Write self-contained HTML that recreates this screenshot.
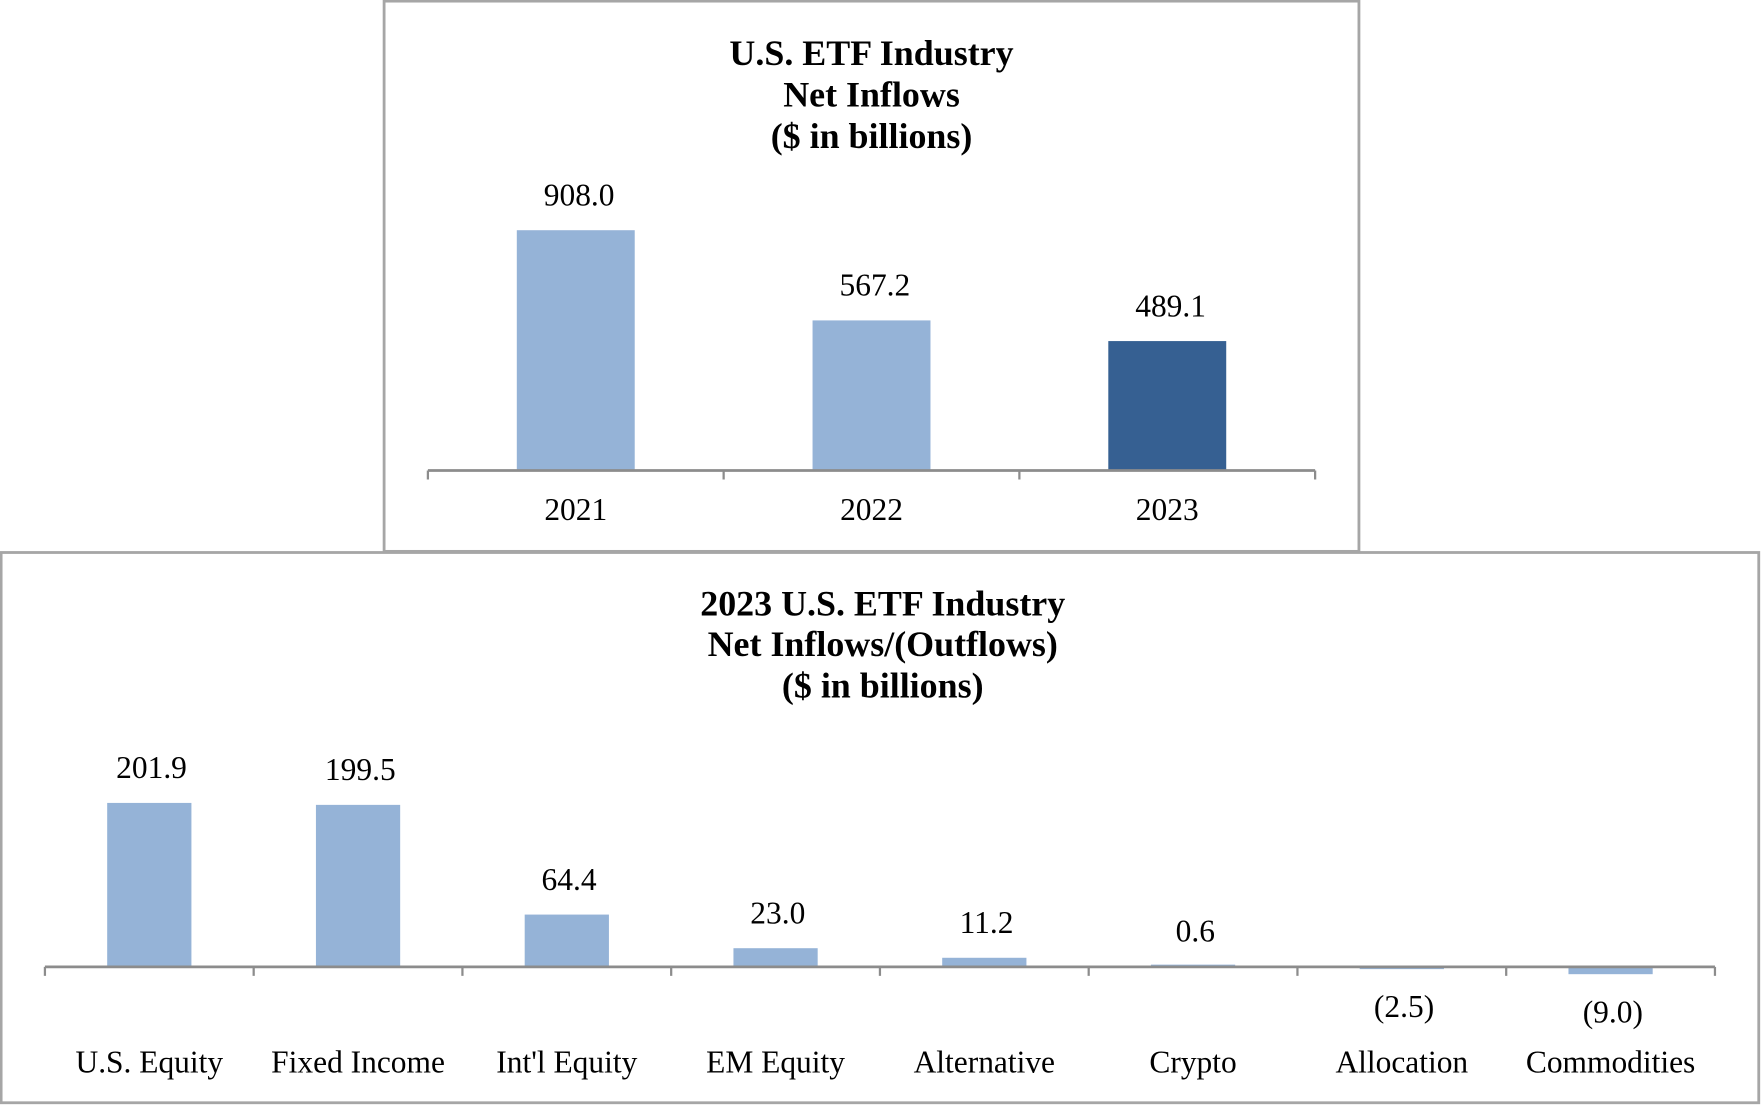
<!DOCTYPE html>
<html><head><meta charset="utf-8"><style>
html,body{margin:0;padding:0;background:#fff;}
svg{display:block;}
text{font-family:"Liberation Serif",serif;fill:#000;}
.t{font-weight:bold;font-size:32px;}
.v{font-size:28px;}
</style></head><body>
<svg id="c" width="1761" height="1105" viewBox="0 0 1568 984" preserveAspectRatio="none" xmlns="http://www.w3.org/2000/svg">
<rect x="342" y="1" width="868" height="490" fill="#fff" stroke="#a6a6a6" stroke-width="2.5"/>
<rect x="1" y="492" width="1565" height="490" fill="#fff" stroke="#a6a6a6" stroke-width="2.5"/>
<g text-anchor="middle">
<text class="t" x="776" y="58">U.S. ETF Industry</text>
<text class="t" x="776" y="95">Net Inflows</text>
<text class="t" x="776" y="132">($ in billions)</text>
</g>
<g text-anchor="middle">
<text class="t" x="786" y="548">2023 U.S. ETF Industry</text>
<text class="t" x="786" y="584">Net Inflows/(Outflows)</text>
<text class="t" x="786" y="621">($ in billions)</text>
</g>
<g id="top"></g>
<g id="bot"></g>
</svg>
<script>
const topCategories = ["2021","2022","2023"];
const topValues = [908.0, 567.2, 489.1];
const topLabels = ["908.0","567.2","489.1"];
const botCategories = ["U.S. Equity","Fixed Income","Int'l Equity","EM Equity","Alternative","Crypto","Allocation","Commodities"];
const botValues = [201.9, 199.5, 64.4, 23.0, 11.2, 0.6, -2.5, -9.0];
const botLabels = ["201.9","199.5","64.4","23.0","11.2","0.6","(2.5)","(9.0)"];

const NS="http://www.w3.org/2000/svg";
function mk(tag, attrs, parent){const e=document.createElementNS(NS,tag);for(const k in attrs)e.setAttribute(k,attrs[k]);parent.appendChild(e);return e;}

function drawChart(g, cats, vals, labels, opt){
  const n=cats.length, step=(opt.x1-opt.x0)/n;
  const xC=i=>opt.x0+step*(i+0.5);
  const yS=v=>opt.base - v*opt.scale;
  vals.forEach((v,i)=>{
    const h=Math.max(Math.abs(yS(v)-opt.base),2);
    const y= v>=0 ? opt.base-h : opt.base;
    const r=mk('rect',{x:xC(i)-opt.bw/2,y:y,width:opt.bw,height:h,fill:opt.colors?opt.colors[i]:'#95b3d7'},g);
    
    
    const ly = v>=0 ? yS(v)-22 : opt.base+opt.negLabelOff+(-v*opt.scale);
    const t=mk('text',{x:xC(i)+(opt.lblDx||0),y:ly,'text-anchor':'middle',class:'v'},g);
    t.textContent=labels[i];
    
    
    const c=mk('text',{x:xC(i),y:opt.catY,'text-anchor':'middle',class:'v'},g);
    c.textContent=cats[i];
    
    
  });
  const ax=mk('line',{x1:opt.x0,x2:opt.x1,y1:opt.base,y2:opt.base,stroke:'#8c8c8c','stroke-width':2.5},g);
  
  
  for(let i=0;i<=n;i++){
    const tk=mk('line',{x1:opt.x0+step*i,x2:opt.x0+step*i,y1:opt.base,y2:opt.base+8,stroke:'#8c8c8c','stroke-width':2},g);
    
    
  }
}
drawChart(document.getElementById('top'), topCategories, topValues, topLabels,
  {x0:381,x1:1171,base:419,scale:214/908,bw:105,catY:463,colors:['#95b3d7','#95b3d7','#366092'],lblDx:3});
drawChart(document.getElementById('bot'), botCategories, botValues, botLabels,
  {x0:40,x1:1527,base:861,scale:146/201.9,bw:75,catY:955,negLabelOff:43,lblDx:2});
</script>
</body></html>
